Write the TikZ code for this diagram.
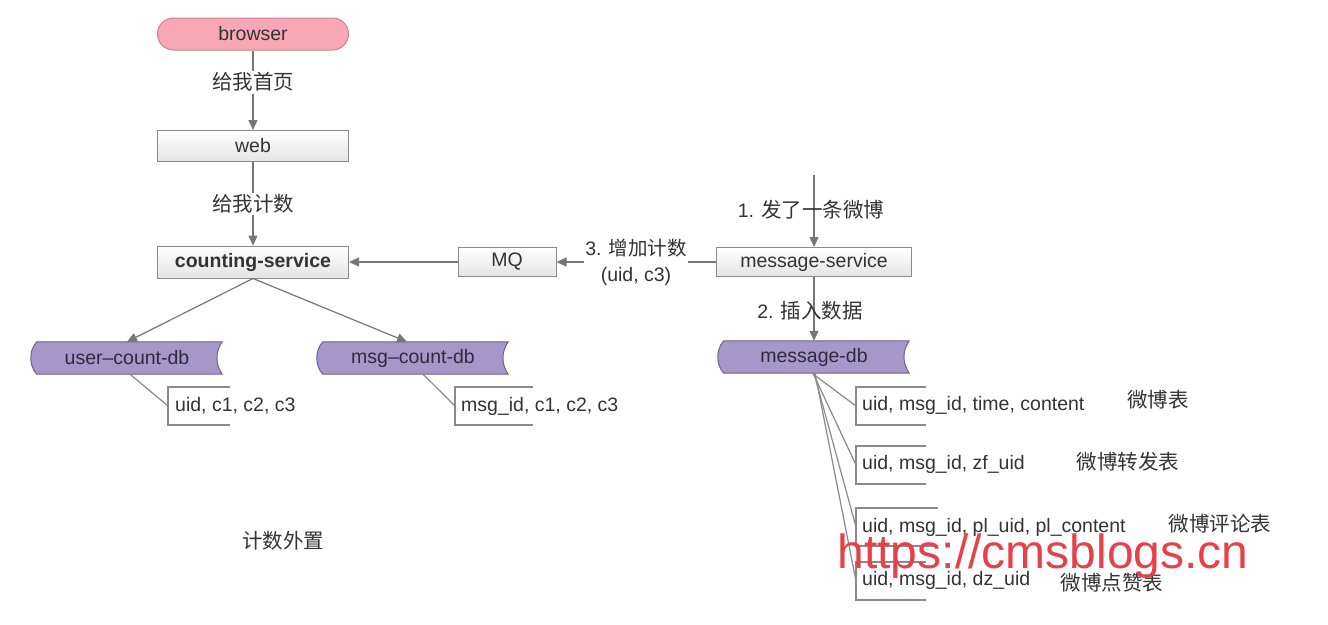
\documentclass[tikz,border=0pt]{standalone}
\usepackage{fontspec}
\setmainfont{Liberation Sans}
\newfontfamily\cjk{Noto Sans CJK SC}
\usetikzlibrary{arrows.meta}
\definecolor{boxline}{HTML}{8A8A8A}
\definecolor{boxbot}{HTML}{E4E4E4}
\definecolor{lc}{HTML}{767676}
\definecolor{txt}{HTML}{333333}
\definecolor{pinkfill}{HTML}{F7A7B5}
\definecolor{pinkline}{HTML}{C98592}
\definecolor{dbfill}{HTML}{A597C7}
\definecolor{dbline}{HTML}{6E6290}
\definecolor{dbtxt}{HTML}{2F2940}
\definecolor{wm}{HTML}{E8404A}
\newcommand\dbpath[1]{%
  \path[fill=dbfill,draw=dbline,line width=1pt]
    ([xshift=5pt]#1.north west) -- (#1.north east)
    .. controls +(-7,10) and +(-7,-10) .. (#1.south east)
    -- ([xshift=5pt]#1.south west)
    .. controls +(-8,-8) and +(-8,8) .. ([xshift=5pt]#1.north west) -- cycle;}
\newcommand\brkt[2]{% coordinate name, length
  \draw[draw=boxline,line width=1.2pt] ([shift={(#2,-19)}]#1) -- ([shift={(0,-19)}]#1) -- ([shift={(0,19)}]#1) -- ([shift={(#2,19)}]#1);}
\begin{document}
\begin{tikzpicture}[x=1pt,y=-1pt,
  lat/.style={font=\fontsize{19.5}{22}\selectfont, text=txt},
  cj/.style={font=\cjk\fontsize{20.5}{24}\selectfont, text=txt},
  box/.style={draw=boxline, line width=1pt, top color=white, bottom color=boxbot,
    minimum width=191pt, minimum height=31pt, inner sep=0pt, lat},
  dbnode/.style={minimum width=190pt, minimum height=32pt, inner sep=0pt,
    font=\fontsize{19.5}{22}\selectfont, text=dbtxt},
  conn/.style={draw=lc, line width=1.2pt, -{Triangle[length=10pt,width=9pt]}},
  plain/.style={draw=boxline, line width=1.2pt},
  lbl/.style={lat, inner sep=1pt, align=center}]
\useasboundingbox (0,0) rectangle (1328,624);
\fill[white] (0,0) rectangle (1328,624);

% top chain
\node[box, rounded corners=16pt, draw=pinkline, top color=pinkfill, bottom color=pinkfill,
  minimum height=32pt] (browser) at (253,34) {browser};
\node[box] (web) at (253,146) {web};
\node[box, minimum height=32pt, font=\fontsize{19.5}{22}\selectfont\bfseries] (cs) at (253,262) {counting-service};
\node[box, minimum width=98pt, minimum height=29pt] (mq) at (507,262) {MQ};
\node[box, minimum width=195pt, minimum height=29pt] (ms) at (814,262) {message-service};

\draw[conn] (browser) -- (web);
\node[cj, fill=white, inner sep=2pt] (l1) at (253,82) {给我首页};
\draw[conn] (web) -- (cs);
\node[cj, fill=white, inner sep=2pt] (l2) at (253,204) {给我计数};

\draw[conn] (mq) -- (cs);
\draw[conn] (ms) -- (mq);
\node[lbl, fill=white, font=\fontsize{19.5}{26}\selectfont] (l3) at (636,262) {3. {\cjk 增加计数}\\(uid, c3)};

\coordinate (in) at (814,175);
\draw[conn] (in) -- (ms);
\node[lbl] (l4) at (811,210) {1. {\cjk\fontsize{20.5}{24}\selectfont 发了一条微博}};

% dbs
\node[dbnode] (ucdb) at (127,358) {};
\node[dbnode] (mcdb) at (413,358) {};
\node[dbnode] (mdb) at (814,357) {};
\dbpath{ucdb}\dbpath{mcdb}\dbpath{mdb}
\node[dbnode] at (ucdb) {user--count-db};
\node[dbnode] at (mcdb) {msg--count-db};
\node[dbnode] at (mdb) {message-db};

\draw[conn] (ms) -- (mdb);
\node[lbl] (l5) at (810,311) {2. {\cjk\fontsize{20.5}{24}\selectfont 插入数据}};

\draw[conn] (cs.south) -- (ucdb.north);
\draw[conn] (cs.south) -- ([xshift=-6pt]mcdb.north);

% small tables
\coordinate (ub) at (168,406);
\brkt{ub}{62}
\node[lat, anchor=west, inner sep=0pt] (ubt) at (175,406) {uid, c1, c2, c3};
\draw[plain] ([xshift=3pt]ucdb.south) -- (ub);

\coordinate (mb) at (455,406);
\brkt{mb}{78}
\node[lat, anchor=west, inner sep=0pt] (mbt) at (461,406) {msg\_id, c1, c2, c3};
\draw[plain] ([xshift=10pt]mcdb.south) -- (mb);

\coordinate (t1) at (856,406);
\coordinate (t2) at (856,465);
\coordinate (t3) at (856,527);
\coordinate (t4) at (856,581);
\brkt{t1}{70}\brkt{t2}{70}\brkt{t3}{82}\brkt{t4}{70}
\node[lat, anchor=west, inner sep=0pt] (t1t) at (862,405) {uid, msg\_id, time, content};
\node[lat, anchor=west, inner sep=0pt] (t2t) at (862,464) {uid, msg\_id, zf\_uid};
\node[lat, anchor=west, inner sep=0pt] (t3t) at (862,527) {uid, msg\_id, pl\_uid, pl\_content};
\node[lat, anchor=west, inner sep=0pt] (t4t) at (862,580) {uid, msg\_id, dz\_uid};
\draw[plain] ([xshift=-2pt]mdb.south) -- (t1);
\draw[plain] ([xshift=-1pt]mdb.south) -- (t2);
\draw[plain] (mdb.south) -- (t3);
\draw[plain] ([xshift=1pt]mdb.south) -- (t4);

\node[cj] (n1) at (1158,400) {微博表};
\node[cj] (n2) at (1128,462) {微博转发表};
\node[cj] (n3) at (1220,524) {微博评论表};
\node[cj] (n4) at (1112,583) {微博点赞表};

\node[cj] (foot) at (283,541) {计数外置};

\node[font=\fontsize{48}{52}\selectfont, text=wm, inner sep=0pt] (wmk) at (1043,556) {https://cmsblogs.cn};
\end{tikzpicture}
\end{document}
